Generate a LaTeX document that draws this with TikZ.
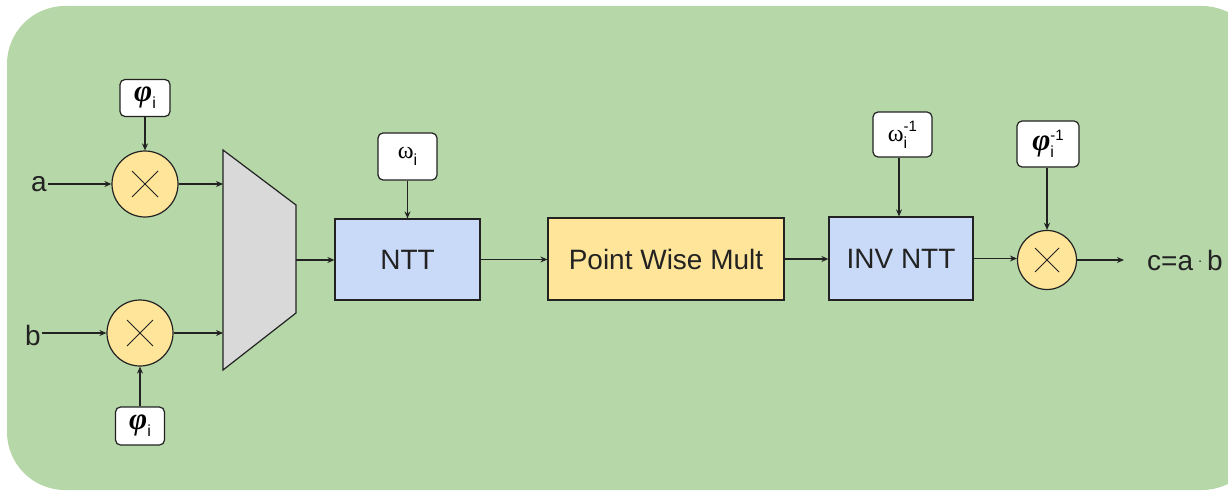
\documentclass[tikz,border=0pt]{standalone}
\usepackage{fontspec}
\setmainfont{Liberation Sans}
\newfontfamily\grkfont{Liberation Serif}
\usetikzlibrary{arrows.meta}
\definecolor{bggreen}{HTML}{B6D7A8}
\definecolor{boxblue}{HTML}{C9DAF8}
\definecolor{boxyellow}{HTML}{FFE599}
\definecolor{muxgray}{HTML}{D9D9D9}
\definecolor{ink}{HTML}{222222}
\newcommand{\phisym}{{\grkfont\bfseries\itshape\fontsize{31}{31}\selectfont φ}}
\newcommand{\omsym}{{\grkfont\fontsize{24}{24}\selectfont ω}}
\newcommand{\subi}{\raisebox{-7pt}{\fontsize{16}{16}\selectfont i}}
\newcommand{\subisup}{\makebox[0pt][l]{\raisebox{-7pt}{\fontsize{16}{16}\selectfont i}}\raisebox{10pt}{\fontsize{15}{15}\selectfont -1}}
\begin{document}
\begin{tikzpicture}[x=1pt,y=-1pt,
  conn/.style={draw=ink, line width=1.2pt, -{Stealth[length=7pt,width=6pt]}},
  mult/.style={circle, draw=ink, line width=1.2pt, fill=boxyellow, inner sep=0pt, minimum size=#1},
  param/.style={draw=ink, line width=1.2pt, fill=white, rounded corners=5pt, inner sep=0pt, align=center},
  block/.style={draw=ink, line width=1.2pt, inner sep=0pt, font=\fontsize{28}{30}\selectfont, text=ink},
  lbl/.style={inner sep=1pt, font=\fontsize{28}{30}\selectfont, text=ink}
]
\useasboundingbox (0,0) rectangle (1228,492);
% background
\fill[bggreen, rounded corners=58pt] (7,6) rectangle (1260,490);

% multipliers
\node[mult=66pt] (m1) at (145,184) {};
\node[mult=66pt] (m2) at (140,333) {};
\node[mult=59pt] (m3) at (1047,260) {};
\foreach \m/\h in {m1/13, m2/13, m3/12}{
  \draw[ink, line width=1pt] (\m.center) +(-\h,-\h) -- +(\h,\h);
  \draw[ink, line width=1pt] (\m.center) +(-\h,\h) -- +(\h,-\h);
}

% parameter boxes
\node[param, minimum width=50pt, minimum height=37pt] (p1) at (145,98) {\phisym\subi};
\node[param, minimum width=49pt, minimum height=38pt] (p2) at (140,426) {\phisym\subi};
\node[param, minimum width=59pt, minimum height=47pt] (w1) at (407.5,156.5) {\omsym\subi};
\node[param, minimum width=59pt, minimum height=45pt] (w2) at (902.5,134.5) {\omsym\subisup};
\node[param, minimum width=62pt, minimum height=46pt] (p3) at (1048,144) {\phisym\subisup};

% mux
\draw[ink, line width=1.2pt, fill=muxgray] (223,150) -- (296,205) -- (296,313) -- (223,370) -- cycle;
\coordinate (muxa) at (223,184);
\coordinate (muxb) at (223,333);
\coordinate (muxo) at (296,260);

% blocks
\node[block, fill=boxblue, minimum width=145pt, minimum height=81pt] (ntt) at (407.5,259.5) {NTT};
\node[block, fill=boxyellow, minimum width=236pt, minimum height=82pt] (pwm) at (666,259) {Point Wise Mult};
\node[block, fill=boxblue, minimum width=144pt, minimum height=83pt] (inv) at (901,258.5) {INV NTT};

% labels
\node[lbl, anchor=east] (a) at (48,184) {a};
\node[lbl, anchor=east] (b) at (42,335) {b};
\node[lbl, anchor=west] (c) at (1146,260) {c=a\,{\fontsize{14}{14}\selectfont\raisebox{5pt}{·}}\,b};
\coordinate (cend) at (1124,260);

% connectors
\draw[conn] (a.east) -- (m1.west);
\draw[conn] (b.east |- m2.west) -- (m2.west);
\draw[conn] (p1.south) -- (m1.north);
\draw[conn] (p2.north) -- (m2.south);
\draw[conn] (m1.east) -- (muxa);
\draw[conn] (m2.east) -- (muxb);
\draw[conn] (muxo) -- (muxo -| ntt.west);
\draw[conn] (w1.south) -- (ntt.north);
\draw[conn] (ntt.east) -- (ntt.east -| pwm.west);
\draw[conn] (pwm.east) -- (pwm.east -| inv.west);
\draw[conn] (w2.south -| 899,0) -- (inv.north -| 899,0);
\draw[conn] (inv.east) -- (inv.east -| m3.west);
\draw[conn] (p3.south -| m3.north) -- (m3.north);
\draw[conn] (m3.east) -- (cend);
\end{tikzpicture}
\end{document}
